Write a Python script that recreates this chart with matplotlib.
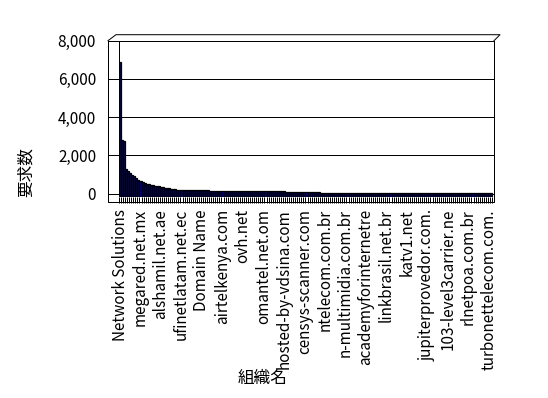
import matplotlib
matplotlib.use('Agg')
import matplotlib.pyplot as plt
from matplotlib.lines import Line2D
from matplotlib.ticker import FuncFormatter

plt.rcParams['font.family'] = ['Noto Sans CJK JP', 'DejaVu Sans']

# request counts per organisation (sorted)
counts = [
    7030, 2960, 2930, 1425, 1320, 1245, 1140, 1060, 985, 900,
    830, 760, 725, 690, 655, 620, 600, 585, 570, 550,
    530, 515, 480, 445, 430, 420, 410, 395, 375, 355,
    345, 342, 340, 338, 336, 335, 333, 332, 330, 329,
    328, 327, 326, 325, 324, 323, 322, 321, 320, 319,
    318, 317, 316, 315, 314, 313, 312, 311, 310, 310,
    309, 308, 308, 307, 306, 306, 305, 305, 304, 304,
    303, 303, 302, 302, 301, 301, 300, 300, 300, 299, 299,
    228, 227, 226, 226, 225, 225, 224, 224, 223, 223,
    222, 222, 221, 221, 220, 220, 220, 219, 219, 218,
    218, 218, 217, 217, 216, 216, 216, 215, 215, 215,
    214, 214, 214, 213, 213, 213, 212, 212, 212, 211,
    211, 211, 210, 210, 210, 210, 209, 209, 209, 208,
    208, 208, 208, 207, 207, 207, 206, 206, 206, 206,
    205, 205, 205, 205, 204, 204, 204, 203, 203, 203,
    203, 202, 202, 202, 202, 201, 201, 201, 201, 200,
    200, 200, 200, 199, 199, 199, 199, 198, 198, 198,
    198, 197, 197, 197, 197, 196, 196, 196, 196, 195, 195,
]

# only every 10th organisation name is printed on the axis
shown_names = [
    'Network Solutions', 'megared.net.mx', 'alshamil.net.ae',
    'ufinetlatam.net.ec', 'Domain Name', 'airtelkenya.com', 'ovh.net',
    'omantel.net.om', 'hosted-by-vdsina.com', 'censys-scanner.com',
    'ntelecom.com.br', 'n-multimidia.com.br', 'academyforinternetre',
    'linkbrasil.net.br', 'katv1.net', 'jupiterprovedor.com.',
    '103-level3carrier.ne', 'rlnetpoa.com.br', 'turbonettelecom.com.',
]
shown_pos = list(range(0, 10 * len(shown_names), 10))
y_ticks = [0, 2000, 4000, 6000, 8000]

W, H = 548, 398
fig = plt.figure(figsize=(W / 100, H / 100), dpi=100)


def box(x0, y0, x1, y1):
    return [x0 / W, 1 - y1 / H, (x1 - x0) / W, (y1 - y0) / H]


def line(xs, ys):
    fig.add_artist(Line2D([x / W for x in xs], [1 - y / H for y in ys],
                          color='black', lw=0.72, transform=fig.transFigure))


# back wall with gridlines
wall = fig.add_axes(box(119, 40.7, 494, 193.5))
wall.set_ylim(0, 8000)
wall.set_yticks(y_ticks)
wall.yaxis.set_major_formatter(FuncFormatter(lambda v, p: f'{int(v):,}'))
wall.yaxis.grid(True, color='black', lw=0.72)
wall.set_xticks([])
wall.tick_params(axis='y', direction='out', length=7.9, width=0.72,
                 pad=8.6, labelsize=11)
for s in wall.spines.values():
    s.set_linewidth(0.72)

# bars, drawn a little in front of the wall
ax = fig.add_axes(box(119, 43.9, 494, 196.7))
ax.patch.set_visible(False)
for s in ax.spines.values():
    s.set_visible(False)
n = len(counts)
ax.bar(range(n), counts, width=1.0, color='#000080', edgecolor='black', linewidth=0.9)
ax.set_xlim(-0.5, n + 0.5)
ax.set_ylim(0, 8000)
ax.set_yticks([])
ax.set_xticks(shown_pos)
ax.set_xticklabels(shown_names, rotation=90, va='top', ha='center', fontsize=11)
ax.set_xticks([i + 0.5 for i in range(-1, n)], minor=True)
ax.tick_params(axis='x', which='major', length=0, pad=8.9)
ax.tick_params(axis='x', which='minor', length=4.3, width=0.72, direction='out')

# 3-D box edges
line([108, 108, 494, 494], [40.7, 202.5, 202.5, 40.7])
line([108, 119], [40.7, 40.7])
line([108, 116, 500, 494], [40.7, 34.7, 34.7, 40.7])

fig.text(26 / W, 1 - 172 / H, '要求数', rotation=90, fontsize=12,
         ha='center', va='center')
fig.text(263 / W, 1 - 378 / H, '組織名', fontsize=12, ha='center', va='center')

fig.savefig('out.png', dpi=100)
